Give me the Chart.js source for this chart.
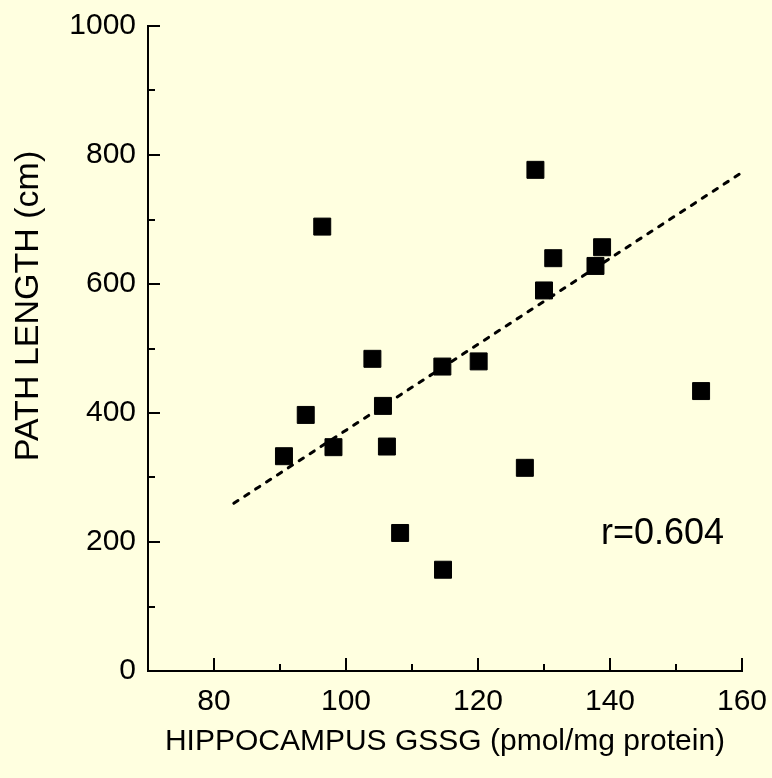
<!DOCTYPE html>
<html>
<head>
<meta charset="utf-8">
<script src="https://cdn.jsdelivr.net/npm/chart.js@4"></script>
<style>
  html, body { margin: 0; padding: 0; background: #ffffe0; }
  #wrap { width: 772px; height: 778px; position: relative; }
</style>
</head>
<body>
<div id="wrap"><canvas id="chart"></canvas></div>
<script>
// hippocampus GSSG (pmol/mg protein) vs path length (cm)
const gssg = [90.6, 93.9, 96.4, 98.1, 104.0, 105.6, 106.2, 108.2, 114.6, 114.7, 120.1, 127.1, 128.7, 130.0, 131.4, 137.8, 138.8, 153.8];
const pathLength = [333, 397, 689, 347, 484, 411, 348, 214, 472, 157, 480, 315, 777, 590, 640, 628, 657, 434];

// regression line end points
const fitX = [83, 160];
const fitY = [260, 773];

const xTickLabels = [80, 100, 120, 140, 160];
const yTickLabels = [0, 200, 400, 600, 800, 1000];
const rLabel = 'r=0.604';

const FONT = '"Liberation Sans", Arial, sans-serif';

// ticks point into the plot, like the original
const inwardTicks = {
    id: 'inwardTicks',
    beforeDatasetsDraw(chart) {
        const { ctx, chartArea, scales } = chart;
        ctx.save();
        ctx.strokeStyle = '#000';
        ctx.lineWidth = 2;
        ctx.beginPath();
        scales.x.ticks.forEach(t => {
            if (t.value === scales.x.min) return;
            const px = Math.round(scales.x.getPixelForValue(t.value));
            const len = xTickLabels.includes(t.value) ? 13 : 7;
            ctx.moveTo(px, chartArea.bottom);
            ctx.lineTo(px, chartArea.bottom - len);
        });
        scales.y.ticks.forEach(t => {
            if (t.value === scales.y.min) return;
            const py = Math.round(scales.y.getPixelForValue(t.value));
            const len = yTickLabels.includes(t.value) ? 12 : 7;
            ctx.moveTo(chartArea.left, py);
            ctx.lineTo(chartArea.left + len, py);
        });
        ctx.stroke();
        ctx.restore();
    }
};

const extraText = {
    id: 'extraText',
    afterDraw(chart) {
        const { ctx } = chart;
        ctx.save();
        ctx.fillStyle = '#000';
        // y axis title
        ctx.font = '34px ' + FONT;
        ctx.textAlign = 'center';
        ctx.textBaseline = 'middle';
        ctx.translate(29, 306);
        ctx.rotate(-Math.PI / 2);
        ctx.fillText('PATH LENGTH (cm)', 0, 0);
        ctx.restore();

        ctx.save();
        ctx.fillStyle = '#000';
        ctx.font = '36px ' + FONT;
        ctx.textAlign = 'left';
        ctx.textBaseline = 'alphabetic';
        ctx.fillText(rLabel, 601, 544);
        ctx.restore();
    }
};

new Chart(document.getElementById('chart'), {
    type: 'scatter',
    data: {
        datasets: [
            {
                label: 'data',
                data: gssg.map((x, i) => ({ x: x, y: pathLength[i] })),
                pointStyle: 'rect',
                pointRadius: 12,
                backgroundColor: '#000',
                borderColor: '#000',
                borderWidth: 1
            },
            {
                type: 'line',
                label: 'fit',
                data: fitX.map((x, i) => ({ x: x, y: fitY[i] })),
                borderColor: '#000',
                borderWidth: 3,
                borderDash: [5, 8],
                borderCapStyle: 'round',
                pointRadius: 0,
                fill: false
            }
        ]
    },
    options: {
        responsive: true,
        maintainAspectRatio: false,
        animation: false,
        layout: { padding: { top: 26, right: 30, left: 0, bottom: 0 } },
        plugins: {
            legend: { display: false },
            tooltip: { enabled: false }
        },
        scales: {
            x: {
                type: 'linear',
                min: 70,
                max: 160,
                afterFit: scale => {
                    scale.height = 107;
                    scale.paddingLeft = 0;
                    scale.paddingRight = 0;
                },
                border: { display: true, color: '#000', width: 2 },
                grid: { drawOnChartArea: false, drawTicks: false },
                ticks: {
                    stepSize: 10,
                    padding: 13,
                    color: '#000',
                    autoSkip: false,
                    maxRotation: 0,
                    font: { family: FONT, size: 30 },
                    callback: v => xTickLabels.includes(v) ? String(v) : ''
                },
                title: {
                    display: true,
                    text: 'HIPPOCAMPUS GSSG (pmol/mg protein)',
                    color: '#000',
                    font: { family: FONT, size: 30 },
                    padding: { top: 0, bottom: 18 }
                }
            },
            y: {
                type: 'linear',
                min: 0,
                max: 1000,
                afterFit: scale => {
                    scale.width = 148;
                    scale.paddingTop = 0;
                    scale.paddingBottom = 0;
                },
                border: { display: true, color: '#000', width: 2 },
                grid: { drawOnChartArea: false, drawTicks: false },
                ticks: {
                    stepSize: 100,
                    padding: 12,
                    color: '#000',
                    autoSkip: false,
                    font: { family: FONT, size: 30 },
                    callback: v => yTickLabels.includes(v) ? String(v) : ''
                }
            }
        }
    },
    plugins: [inwardTicks, extraText]
});
</script>
</body>
</html>
